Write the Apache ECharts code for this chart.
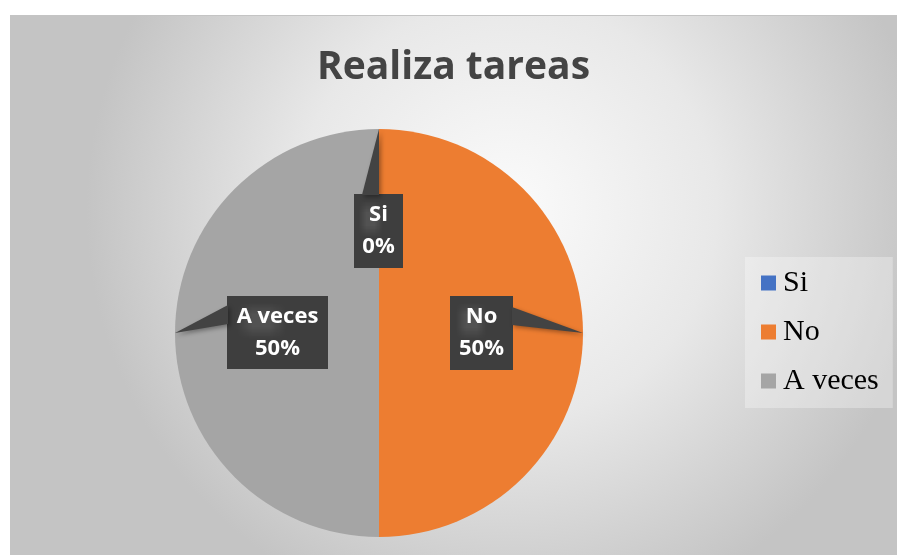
<!DOCTYPE html>
<html>
<head>
<meta charset="utf-8">
<title>Realiza tareas</title>
<script src="https://cdn.jsdelivr.net/npm/echarts@6/dist/echarts.min.js"></script>
<style>
  html, body { margin: 0; padding: 0; background: #fff; }
  #chart {
    position: absolute;
    left: 10px;
    top: 15px;
    width: 887px;
    height: 540px;
    border-top: 1px solid #c4c4c4;
    box-sizing: border-box;
  }
</style>
</head>
<body>
<div id="chart"></div>
<script>
const categories = ["Si", "No", "A veces"];
const values = [0, 50, 50];
const colors = ["#4472C4", "#ED7D31", "#A5A5A5"];

// pie geometry (px inside the chart box)
const cx = 369, cy = 317, radius = 204;

// callout boxes, relative to pie centre, and the side the pointer leaves from
const boxes = [
  { dx: -25, dy: -139, w: 49, h: 74, side: "top", base: [8, 25] },
  { dx: 71, dy: -37, w: 63, h: 74, side: "right", base: [11, 29] },
  { dx: -152, dy: -37, w: 101, h: 73, side: "left", base: [9, 28] },
];

const chartDom = document.getElementById("chart");
const chart = echarts.init(chartDom);

// dark dotted texture used by the callouts
const tex = document.createElement("canvas");
tex.width = 6;
tex.height = 6;
const tctx = tex.getContext("2d");
tctx.fillStyle = "#3e3e3e";
tctx.fillRect(0, 0, 6, 6);
tctx.fillStyle = "#525252";
tctx.fillRect(1, 1, 2, 2);
const pattern = { image: tex, repeat: "repeat" };

const total = values.reduce((a, b) => a + b, 0);

// pointer tip sits on the rim at the slice mid-angle
const pointers = () => {
  let acc = 0;
  return values.map((v, i) => {
    const mid = (90 - (360 * (acc + v / 2)) / total) * (Math.PI / 180);
    acc += v;
    const tip = [cx + radius * Math.cos(mid), cy - radius * Math.sin(mid)];
    const b = boxes[i];
    const x0 = cx + b.dx, y0 = cy + b.dy;
    let p1, p2;
    if (b.side === "top") {
      p1 = [x0 + b.base[0], y0 + 1];
      p2 = [x0 + b.base[1], y0 + 1];
    } else if (b.side === "right") {
      p1 = [x0 + b.w - 1, y0 + b.base[0]];
      p2 = [x0 + b.w - 1, y0 + b.base[1]];
    } else {
      p1 = [x0 + 1, y0 + b.base[0]];
      p2 = [x0 + 1, y0 + b.base[1]];
    }
    return {
      type: "polygon",
      z: 50,
      shape: { points: [p1, tip, p2] },
      style: {
        fill: "#434343",
        shadowBlur: 4,
        shadowColor: "rgba(0,0,0,0.35)",
        shadowOffsetX: 2,
        shadowOffsetY: 2,
      },
      silent: true,
    };
  });
};

const option = {
  backgroundColor: new echarts.graphic.RadialGradient(0.56, 0.36, 0.78, [
    { offset: 0, color: "#fbfbfb" },
    { offset: 0.5, color: "#e8e8e8" },
    { offset: 1, color: "#c4c4c4" },
  ]),
  color: colors,
  animation: false,
  title: {
    text: "Realiza tareas",
    left: "center",
    top: 27,
    padding: [5, 0, 5, 29],
    textStyle: {
      fontFamily: "Open Sans",
      fontWeight: "bold",
      fontSize: 39,
      color: "#444444",
    },
  },
  legend: {
    orient: "vertical",
    left: 735,
    top: 241,
    padding: [11, 14, 12, 16],
    itemGap: 19,
    itemWidth: 15,
    itemHeight: 15,
    icon: "rect",
    backgroundColor: "rgba(255,255,255,0.3)",
    data: categories,
    textStyle: {
      fontFamily: "Liberation Serif",
      fontSize: 30,
      lineHeight: 30,
      color: "#000",
      padding: [0, 0, 0, 2],
    },
  },
  graphic: pointers(),
  series: [
    {
      type: "pie",
      center: [cx, cy],
      radius: radius,
      startAngle: 90,
      clockwise: true,
      silent: true,
      minShowLabelAngle: 0,
      data: categories.map((name, i) => ({ name: name, value: values[i] })),
      label: {
        show: true,
        position: "outside",
        formatter: (p) => p.name + "\n" + Math.round(p.percent) + "%",
        fontFamily: "Open Sans",
        fontWeight: "bold",
        fontSize: 22,
        lineHeight: 32,
        color: "#fff",
        align: "center",
        verticalAlign: "middle",
        backgroundColor: pattern,
        shadowBlur: 4,
        shadowColor: "rgba(0,0,0,0.35)",
        shadowOffsetX: 3,
        shadowOffsetY: 3,
      },
      labelLine: { show: false },
      labelLayout: (params) => {
        const b = boxes[params.dataIndex];
        return {
          x: cx + b.dx + b.w / 2,
          y: cy + b.dy + b.h / 2,
          align: "center",
          verticalAlign: "middle",
          width: b.w,
          height: b.h,
        };
      },
      itemStyle: { borderWidth: 0 },
      emphasis: { disabled: true },
    },
  ],
};

chart.setOption(option);
window.addEventListener("resize", () => {
  chart && chart.resize();
});
</script>
</body>
</html>
